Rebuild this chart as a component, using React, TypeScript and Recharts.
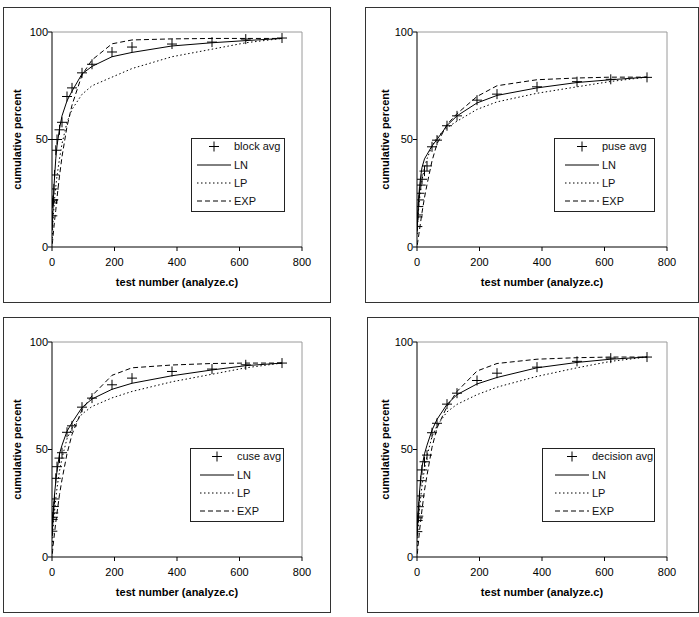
import React from 'react';
import { ComposedChart, Line, Scatter, XAxis, YAxis, ReferenceLine, Legend, Label } from 'recharts';

// test numbers where the cumulative coverage was sampled (shared by all four plots)
const testNumbers = [1, 2, 3, 4, 6, 8, 12, 16, 24, 32, 48, 64, 96, 128, 192, 256, 384, 512, 620, 736];

const blockAvg = [14.5, 20.5, 21.5, 22, 27, 33.5, 45, 50, 54.5, 58, 70, 74, 81, 85, 90.7, 93, 94.4, 95.3, 96.7, 97.2];
const blockLN = [8, 13, 17, 21, 27, 32, 41, 47, 55, 61, 68, 72.5, 80.5, 84, 88.5, 90.5, 93.5, 95, 96, 97];
const blockLP = [4, 8, 11, 14, 18, 22, 28, 33, 41, 48, 58, 64, 71, 75, 79, 83, 88.5, 92, 95, 97];
const blockEXP = [1.5, 3, 4.5, 6, 9, 12, 17, 23, 33, 42, 56, 66, 80, 87, 94.5, 96.3, 96.8, 97, 97, 97];

const puseAvg = [9.5, 14, 14.9, 18.8, 21.9, 25, 28.8, 31.5, 35.3, 37.7, 46.6, 49.7, 56.4, 61, 68.3, 71.1, 74.5, 76.9, 78, 78.9];
const puseLN = [8, 13, 17, 20, 24, 28, 33, 37, 41, 43, 47, 50, 56.5, 61, 67, 70.5, 74, 76.5, 77.8, 79];
const puseLP = [6, 10, 13, 15, 19, 22, 27, 31, 37, 41, 47, 51, 55.5, 58.5, 64, 67.5, 71.5, 74.5, 77, 79];
const puseEXP = [1, 2, 3, 4, 6, 8, 12, 16, 23, 29, 40, 48, 57, 62, 70, 75, 77.8, 78.6, 79, 79];

const cuseAvg = [12, 17.5, 18.5, 20.5, 23.5, 27, 36.6, 42, 46, 48.5, 58, 61, 69.7, 73.9, 80.1, 83.2, 86.3, 87.4, 89.4, 90.2];
const cuseLN = [10, 15, 18, 21, 25, 29, 35, 40, 48, 52, 58.5, 62.5, 69.5, 73.5, 78, 80.8, 84.3, 87, 89, 90.2];
const cuseLP = [5, 9, 12, 14, 18, 21, 27, 32, 40, 46, 55, 60, 66.5, 70, 74, 77, 81.5, 85, 88, 90.2];
const cuseEXP = [1.5, 3, 4.5, 6, 8.5, 11, 16, 20.5, 29, 36, 48, 57, 68.5, 75, 84.5, 88, 89.3, 90, 90.2, 90.2];

const decisionAvg = [11.8, 17, 18.2, 19, 23.4, 28.4, 35.5, 40.5, 44.3, 47.4, 57.8, 62.2, 71.1, 76.2, 82.1, 85.5, 88.3, 91, 92.5, 93];
const decisionLN = [10, 15, 18, 21, 26, 30, 37, 42, 48, 52, 59, 64, 71, 75.5, 80.5, 83.5, 88, 90.5, 92, 93];
const decisionLP = [5, 9, 12, 14, 18, 22, 28, 33, 41, 47, 56, 61, 67.5, 71, 75.5, 79, 84, 88, 91, 93];
const decisionEXP = [1.5, 3, 4.5, 6, 9, 12, 17, 22, 31, 38, 51, 60, 70, 77, 86.5, 90, 92, 92.7, 93, 93];

const xTicks = [0, 200, 400, 600, 800];
const yTicks = [0, 50, 100];

const FONT = '"Liberation Sans", Arial, sans-serif';
const PLOT_W = 250;
const PLOT_H = 215;

const buildRows = (avg: number[], ln: number[], lp: number[], exp: number[]) =>
  testNumbers.map((x, i) => ({ x, avg: avg[i], ln: ln[i], lp: lp[i], exp: exp[i] }));

const Cross = (props: any) => {
  const { cx, cy } = props;
  if (cx == null || cy == null) return null;
  return (
    <g>
      <line x1={cx - 5} x2={cx + 5} y1={cy} y2={cy} stroke="#000" strokeWidth={1} />
      <line x1={cx} x2={cx} y1={cy - 5} y2={cy + 5} stroke="#000" strokeWidth={1} />
    </g>
  );
};

const LegendBox = ({ name, width, inset }: { name: string; width: number; inset: number }) => {
  const rows = [8.5, 27, 45, 63];
  const textX = inset + 37;
  const txt = { fontFamily: FONT, fontSize: 11, fill: '#111' };
  return (
    <svg width={width} height={74} style={{ display: 'block' }}>
      <rect x={0.5} y={0.5} width={width - 1} height={73} fill="#fff" stroke="#222" />
      <Cross cx={inset + 17} cy={rows[0]} />
      <text x={textX} y={rows[0]} dy="0.35em" {...txt}>{name}</text>
      <line x1={inset} x2={inset + 34} y1={rows[1]} y2={rows[1]} stroke="#000" />
      <text x={textX} y={rows[1]} dy="0.35em" {...txt}>LN</text>
      <line x1={inset} x2={inset + 34} y1={rows[2]} y2={rows[2]} stroke="#000" strokeDasharray="1.5 2.5" />
      <text x={textX} y={rows[2]} dy="0.35em" {...txt}>LP</text>
      <line x1={inset} x2={inset + 34} y1={rows[3]} y2={rows[3]} stroke="#000" strokeDasharray="5 3" />
      <text x={textX} y={rows[3]} dy="0.35em" {...txt}>EXP</text>
    </svg>
  );
};

type PanelProps = {
  name: string;
  rows: ReturnType<typeof buildRows>;
  left: number;
  top: number;
  width: number;
  plotLeft: number;
  labelX: number;
  legendLeft: number;
  legendWidth: number;
  inset: number;
};

const Panel = ({ name, rows, left, top, width, plotLeft, labelX, legendLeft, legendWidth, inset }: PanelProps) => {
  const innerW = width - 2;
  const innerH = 294;
  const tick = { fontFamily: FONT, fontSize: 11, fill: '#000' };
  const boldLabel = { fontFamily: FONT, fontSize: 11, fontWeight: 'bold' as const, fill: '#000' };

  return (
    <div
      style={{
        position: 'absolute',
        left,
        top,
        width,
        height: innerH + 2,
        border: '1px solid #333',
        boxSizing: 'border-box',
        background: '#fff',
      }}
    >
      <ComposedChart
        width={innerW}
        height={innerH}
        data={rows}
        margin={{ top: 24, right: innerW - plotLeft - PLOT_W, bottom: 0, left: 0 }}
      >
        <XAxis
          dataKey="x"
          type="number"
          domain={[0, 800]}
          ticks={xTicks}
          height={innerH - 24 - PLOT_H}
          tick={tick}
          tickSize={4}
          tickMargin={7}
          stroke="#000"
          allowDataOverflow
        >
          <Label
            content={(p: any) => {
              const vb = p.viewBox || {};
              return (
                <text x={vb.x + vb.width / 2} y={vb.y + 39} textAnchor="middle" {...boldLabel}>
                  test number (analyze.c)
                </text>
              );
            }}
          />
        </XAxis>
        <YAxis
          type="number"
          domain={[0, 100]}
          ticks={yTicks}
          width={plotLeft}
          tick={tick}
          tickSize={4}
          tickMargin={0}
          stroke="#000"
          allowDataOverflow
        >
          <Label
            content={(p: any) => {
              const vb = p.viewBox || {};
              const cy = vb.y + vb.height / 2;
              return (
                <text
                  x={labelX}
                  y={cy}
                  dy="0.35em"
                  textAnchor="middle"
                  transform={`rotate(-90, ${labelX}, ${cy})`}
                  {...boldLabel}
                >
                  cumulative percent
                </text>
              );
            }}
          />
        </YAxis>
        <ReferenceLine y={100} stroke="#9a9a9a" strokeWidth={1} />
        <ReferenceLine x={800} stroke="#9a9a9a" strokeWidth={1} />
        <Line type="linear" dataKey="ln" stroke="#000" strokeWidth={1} dot={false} isAnimationActive={false} />
        <Line
          type="linear"
          dataKey="lp"
          stroke="#000"
          strokeWidth={1}
          strokeDasharray="1.5 2.5"
          dot={false}
          isAnimationActive={false}
        />
        <Line
          type="linear"
          dataKey="exp"
          stroke="#000"
          strokeWidth={1}
          strokeDasharray="5 3"
          dot={false}
          isAnimationActive={false}
        />
        <Scatter dataKey="avg" shape={<Cross />} isAnimationActive={false} />
        <Legend
          layout="vertical"
          align="center"
          verticalAlign="middle"
          wrapperStyle={{ left: legendLeft, top: 130, width: legendWidth, height: 74 }}
          content={() => <LegendBox name={name} width={legendWidth} inset={inset} />}
        />
      </ComposedChart>
    </div>
  );
};

export default function App() {
  return (
    <div style={{ position: 'absolute', left: 0, top: 0, width: 699, height: 617, background: '#fff', fontFamily: FONT }}>
      <Panel
        name="block avg"
        rows={buildRows(blockAvg, blockLN, blockLP, blockEXP)}
        left={3}
        top={7}
        width={328}
        plotLeft={48}
        labelX={13}
        legendLeft={187}
        legendWidth={94}
        inset={6}
      />
      <Panel
        name="puse avg"
        rows={buildRows(puseAvg, puseLN, puseLP, puseEXP)}
        left={365}
        top={7}
        width={334}
        plotLeft={51}
        labelX={19}
        legendLeft={188}
        legendWidth={101}
        inset={11}
      />
      <Panel
        name="cuse avg"
        rows={buildRows(cuseAvg, cuseLN, cuseLP, cuseEXP)}
        left={3}
        top={317}
        width={328}
        plotLeft={48}
        labelX={13}
        legendLeft={186}
        legendWidth={94}
        inset={10}
      />
      <Panel
        name="decision avg"
        rows={buildRows(decisionAvg, decisionLN, decisionLP, decisionEXP)}
        left={367}
        top={317}
        width={332}
        plotLeft={49}
        labelX={17}
        legendLeft={174}
        legendWidth={113}
        inset={13}
      />
    </div>
  );
}
